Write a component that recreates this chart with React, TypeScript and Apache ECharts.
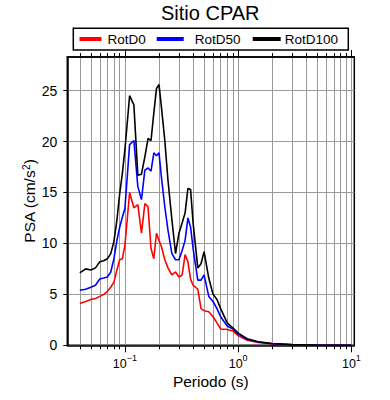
import React, { useEffect, useRef } from "react";
import * as echarts from "echarts";

const periods = [
  0.04, 0.045, 0.05, 0.055, 0.06, 0.065, 0.07, 0.075, 0.08, 0.085, 0.09, 0.095,
  0.1, 0.11, 0.12, 0.13, 0.14, 0.15, 0.16, 0.17, 0.18, 0.19, 0.2, 0.21, 0.225,
  0.24, 0.26, 0.28, 0.3, 0.32, 0.34, 0.36, 0.38, 0.4, 0.44, 0.47, 0.5, 0.55,
  0.6, 0.65, 0.7, 0.8, 0.9, 1.0, 1.2, 1.5, 2.0, 3.0, 5.0, 10.0,
];
const rotD0 = [
  4.1, 4.3, 4.5, 4.6, 4.8, 5.0, 5.3, 5.7, 6.2, 7.4, 8.4, 8.5,
  9.8, 15.0, 13.5, 13.8, 11.0, 13.9, 13.6, 9.5, 8.5, 11.0, 10.3, 9.7, 8.4,
  7.6, 6.9, 7.2, 6.7, 6.9, 8.9, 8.2, 6.5, 5.9, 5.5, 3.6, 3.4, 3.3,
  2.8, 2.2, 1.6, 1.55, 1.4, 0.95, 0.5, 0.28, 0.12, 0.05, 0.02, 0.01,
];
const rotD50 = [
  5.4, 5.5, 5.7, 5.9, 6.5, 6.6, 6.7, 7.2, 8.5, 10.3, 11.6, 12.6,
  13.4, 19.7, 20.1, 15.6, 14.3, 17.2, 17.4, 17.1, 18.9, 18.6, 18.9, 16.5, 13.6,
  11.3, 9.0, 8.4, 8.4, 9.3, 10.3, 12.5, 11.6, 9.5, 6.4, 6.4, 6.9, 4.8,
  4.3, 3.6, 2.8, 1.9, 1.6, 1.1, 0.6, 0.32, 0.15, 0.06, 0.025, 0.01,
];
const rotD100 = [
  7.1, 7.5, 7.4, 7.6, 8.2, 8.3, 8.5, 9.0, 10.2, 12.3, 14.9, 16.9,
  19.2, 24.5, 23.6, 16.7, 16.8, 18.5, 20.3, 20.1, 22.8, 25.2, 25.6, 23.4, 20.1,
  16.2, 12.3, 9.0, 11.0, 12.0, 13.0, 15.4, 15.3, 12.0, 7.6, 8.0, 9.2, 6.6,
  5.0, 4.5, 3.6, 2.2, 1.7, 1.2, 0.65, 0.35, 0.18, 0.07, 0.03, 0.01,
];

const seriesNames = ["RotD0", "RotD50", "RotD100"];
const seriesColors = ["#ff0000", "#0000ff", "#000000"];
const seriesValues = [rotD0, rotD50, rotD100];

const xMajorTicks = [0.1, 1, 10];
const xMinorTicks = [
  0.04, 0.05, 0.06, 0.07, 0.08, 0.09, 0.2, 0.3, 0.4, 0.5, 0.6, 0.7, 0.8, 0.9,
  2, 3, 4, 5, 6, 7, 8, 9,
];
const yTicks = [0, 5, 10, 15, 20, 25];

const FONT = "'Liberation Sans', Arial, Helvetica, sans-serif";
const X_MIN = 0.031;
const X_MAX = 10.6;
const Y_MAX = 28.3;

const allXTicks = [...xMinorTicks, ...xMajorTicks].sort((a, b) => a - b);

function expLabel(v: number): string {
  const e = Math.round(Math.log10(v));
  const s = e < 0 ? "\u2212" + String(-e) : String(e);
  return "{b|10}{sup|" + s + "}";
}

export default function App() {
  const ref = useRef<HTMLDivElement>(null);
  useEffect(() => {
    if (!ref.current) return;
    const chart = echarts.init(ref.current, undefined, { renderer: "svg" });
    const baseX = {
      type: "log",
      logBase: 10,
      min: X_MIN,
      max: X_MAX,
      gridIndex: 0,
    };
    const legendLeft = [79.5, 156.7, 252.7];
    const legendIconW = [22, 27, 28];
    const legendTextPad = [1, 6, -1];
    const option: any = {
      animation: false,
      backgroundColor: "#ffffff",
      title: {
        text: "Sitio CPAR",
        left: 161,
        top: 3,
        padding: 0,
        textStyle: { fontSize: 20, fontWeight: "normal", color: "#000", fontFamily: FONT },
      },
      graphic: [
        {
          type: "rect",
          z: 1,
          shape: { x: 73.3, y: 28.3, width: 275, height: 21.7 },
          style: { fill: "#ffffff", stroke: "#000000", lineWidth: 1.5 },
        },
      ],
      legend: seriesNames.map((n, i) => ({
        data: [n],
        left: legendLeft[i],
        top: 32,
        padding: 0,
        z: 5,
        icon: "rect",
        itemWidth: legendIconW[i],
        itemHeight: 4,
        selectedMode: false,
        textStyle: {
          fontSize: 13.5,
          color: "#000",
          fontFamily: FONT,
          padding: [0, 0, 0, legendTextPad[i]],
        },
      })),
      grid: {
        left: 67.3,
        right: 35.7,
        top: 57,
        bottom: 54.7,
        show: true,
        borderColor: "#000",
        borderWidth: 1.5,
        backgroundColor: "transparent",
      },
      xAxis: [
        {
          ...baseX,
          position: "bottom",
          name: "Periodo (s)",
          nameLocation: "middle",
          nameGap: 28,
          nameMoveOverlap: false,
          nameTextStyle: { fontSize: 15.5, color: "#000", fontFamily: FONT },
          axisLine: { show: true, lineStyle: { color: "#000", width: 1.5 } },
          axisTick: { show: true, length: 4, customValues: allXTicks, lineStyle: { color: "#000", width: 1 } },
          axisLabel: {
            customValues: xMajorTicks,
            margin: 8,
            color: "#000",
            fontFamily: FONT,
            formatter: (v: number) => expLabel(v),
            rich: {
              b: { fontSize: 12.5, fontFamily: FONT, color: "#000", verticalAlign: "bottom", padding: [4, 0, 0, 0] },
              sup: { fontSize: 9, fontFamily: FONT, color: "#000", verticalAlign: "top", lineHeight: 9 },
            },
          },
          splitLine: { show: true, lineStyle: { color: "#9a9a9a", width: 1 } },
        },
        {
          ...baseX,
          position: "top",
          axisLine: { show: true, lineStyle: { color: "#000", width: 1.5 } },
          axisTick: { show: true, length: 4, customValues: allXTicks, lineStyle: { color: "#000", width: 1 } },
          axisLabel: { show: false },
          splitLine: { show: false },
        },
        {
          ...baseX,
          position: "bottom",
          axisLine: { show: false },
          axisTick: { show: true, length: 7, customValues: xMajorTicks, lineStyle: { color: "#000", width: 1 } },
          axisLabel: { show: false },
          splitLine: { show: false },
        },
        {
          ...baseX,
          position: "top",
          axisLine: { show: false },
          axisTick: { show: true, length: 7, customValues: xMajorTicks, lineStyle: { color: "#000", width: 1 } },
          axisLabel: { show: false },
          splitLine: { show: false },
        },
      ],
      yAxis: [
        {
          type: "value",
          min: 0,
          max: Y_MAX,
          position: "left",
          name: "PSA (cm/s{sup|2})",
          nameLocation: "middle",
          nameGap: 30,
          nameRotate: 90,
          nameMoveOverlap: false,
          nameTextStyle: {
            fontSize: 15.5,
            color: "#000",
            fontFamily: FONT,
            rich: {
              sup: { fontSize: 10, fontFamily: FONT, color: "#000", verticalAlign: "top" },
            },
          },
          axisLine: { show: true, lineStyle: { color: "#000", width: 1.5 } },
          axisTick: { show: true, length: 4, customValues: yTicks, lineStyle: { color: "#000", width: 1 } },
          axisLabel: { customValues: yTicks, margin: 10, fontSize: 14, color: "#000", fontFamily: FONT },
          splitLine: { show: true, lineStyle: { color: "#9a9a9a", width: 1 } },
        },
      ],
      series: seriesNames.map((n, i) => ({
        name: n,
        type: "line",
        xAxisIndex: 0,
        yAxisIndex: 0,
        color: seriesColors[i],
        showSymbol: false,
        symbol: "none",
        lineStyle: { color: seriesColors[i], width: 1.6 },
        itemStyle: { color: seriesColors[i] },
        z: 3 + i,
        data: periods.map((p, k) => [p, seriesValues[i][k]]),
      })),
    };
    chart.setOption(option);
    return () => chart.dispose();
  }, []);
  return (
    <div
      ref={ref}
      style={{ position: "absolute", left: 0, top: 0, width: 390, height: 400 }}
    />
  );
}
